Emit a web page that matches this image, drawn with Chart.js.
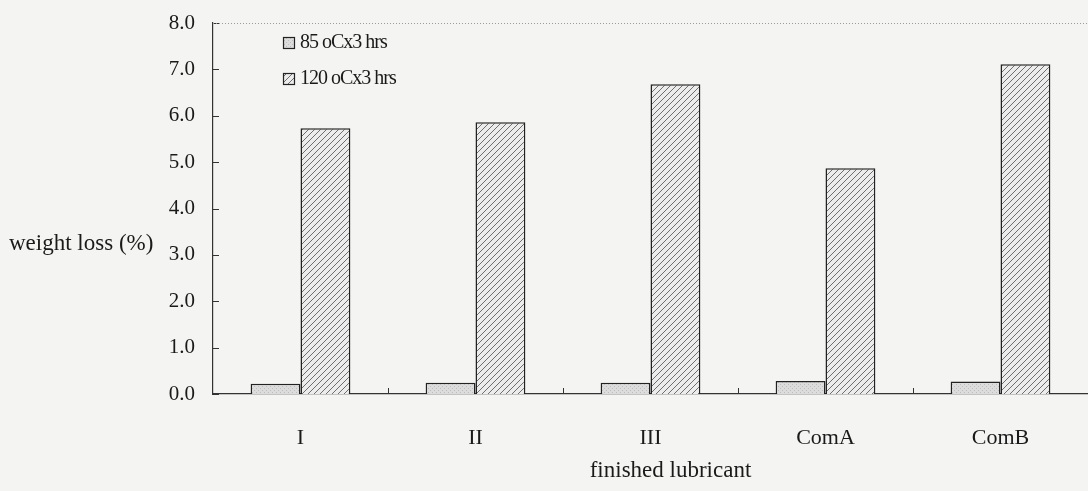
<!DOCTYPE html>
<html>
<head>
<meta charset="utf-8">
<script src="https://cdn.jsdelivr.net/npm/chart.js@4"></script>
<style>
  html, body { margin: 0; padding: 0; background: #f4f4f2; }
  #wrap { width: 1088px; height: 491px; position: relative; }
</style>
</head>
<body>
<div id="wrap"><canvas id="chart"></canvas></div>
<script>
// data
const categories = ['I', 'II', 'III', 'ComA', 'ComB'];
const seriesNames = ['85 oCx3 hrs', '120 oCx3 hrs'];
const loss85 = [0.22, 0.24, 0.24, 0.28, 0.27];
const loss120 = [5.73, 5.86, 6.68, 4.87, 7.11];
const yTicks = [0, 1, 2, 3, 4, 5, 6, 7, 8];

const FONT = '"Liberation Serif", "DejaVu Serif", serif';
const INK = '#1a1a1a';

// fill patterns: light stipple and diagonal hatch
function stipple() {
    const c = document.createElement('canvas');
    c.width = 4; c.height = 4;
    const g = c.getContext('2d');
    g.fillStyle = '#dcdcdc';
    g.fillRect(0, 0, 4, 4);
    g.fillStyle = '#bdbdbd';
    g.fillRect(0, 0, 1, 1);
    g.fillRect(2, 2, 1, 1);
    return g.createPattern(c, 'repeat');
}
function hatch() {
    const s = 6;
    const c = document.createElement('canvas');
    c.width = s; c.height = s;
    const g = c.getContext('2d');
    g.fillStyle = '#ececec';
    g.fillRect(0, 0, s, s);
    g.strokeStyle = '#6e6e6e';
    g.lineWidth = 1;
    g.beginPath();
    g.moveTo(-1, s + 1); g.lineTo(s + 1, -1);
    g.moveTo(-1, 1); g.lineTo(1, -1);
    g.moveTo(s - 1, s + 1); g.lineTo(s + 1, s - 1);
    g.stroke();
    return g.createPattern(c, 'repeat');
}
const fills = [stipple(), hatch()];

// inside ticks, dotted top frame, legend and axis titles
const decor = {
    id: 'decor',
    afterDatasetsDraw(chart) {
        const { ctx, chartArea: a, scales: { x, y } } = chart;
        ctx.save();
        ctx.strokeStyle = '#333';
        ctx.lineWidth = 1;
        ctx.beginPath();
        yTicks.forEach(v => {
            const py = Math.round(y.getPixelForValue(v)) + 0.5;
            ctx.moveTo(a.left, py); ctx.lineTo(a.left + 6, py);
        });
        for (let i = 1; i < categories.length; i++) {
            const px = Math.round((x.getPixelForValue(i - 1) + x.getPixelForValue(i)) / 2) + 0.5;
            ctx.moveTo(px, a.bottom); ctx.lineTo(px, a.bottom - 6);
        }
        ctx.stroke();

        ctx.strokeStyle = '#9a9a9a';
        ctx.setLineDash([1, 2]);
        ctx.beginPath();
        ctx.moveTo(a.left, a.top + 0.5); ctx.lineTo(a.right, a.top + 0.5);
        ctx.stroke();
        ctx.setLineDash([]);

        // legend
        ctx.font = '20px ' + FONT;
        ctx.letterSpacing = '-1px';
        ctx.textBaseline = 'middle';
        ctx.textAlign = 'left';
        seriesNames.forEach((name, i) => {
            const cy = 43 + i * 36;
            ctx.fillStyle = fills[i];
            ctx.fillRect(283, cy - 6, 12, 12);
            ctx.strokeStyle = '#222';
            ctx.lineWidth = 1.2;
            ctx.strokeRect(283.5, cy - 5.5, 11, 11);
            ctx.fillStyle = INK;
            ctx.fillText(name, 300, cy);
        });

        // axis titles
        ctx.letterSpacing = '0px';
        ctx.font = '23px ' + FONT;
        ctx.fillText('weight loss (%)', 9, 244);
        ctx.textAlign = 'center';
        ctx.fillText('finished lubricant', (a.left + a.right) / 2 + 20, 471);
        ctx.restore();
    }
};

new Chart(document.getElementById('chart'), {
    type: 'bar',
    data: {
        labels: categories,
        datasets: [loss85, loss120].map((vals, i) => ({
            label: seriesNames[i],
            data: vals,
            backgroundColor: fills[i],
            borderColor: '#222',
            borderWidth: 1.5,
            barPercentage: 1,
            categoryPercentage: 0.57
        }))
    },
    options: {
        responsive: true,
        maintainAspectRatio: false,
        animation: false,
        layout: { padding: { top: 23, right: 0, left: 0, bottom: 0 } },
        scales: {
            x: {
                grid: { display: false, drawTicks: false },
                border: { display: true, color: '#333', width: 1.2 },
                ticks: { color: INK, font: { family: FONT, size: 22 }, padding: 31 },
                afterFit(scale) { scale.height = 97; }
            },
            y: {
                min: 0,
                max: 8,
                grid: { display: false, drawTicks: false },
                border: { display: true, color: '#333', width: 1.2 },
                ticks: {
                    stepSize: 1,
                    color: INK,
                    font: { family: FONT, size: 21 },
                    padding: 18,
                    callback: v => Number(v).toFixed(1)
                },
                afterFit(scale) {
                    scale.width = 213;
                    scale.paddingTop = 0;
                    scale.paddingBottom = 0;
                }
            }
        },
        plugins: {
            legend: { display: false },
            tooltip: { enabled: false }
        }
    },
    plugins: [decor]
});
</script>
</body>
</html>
